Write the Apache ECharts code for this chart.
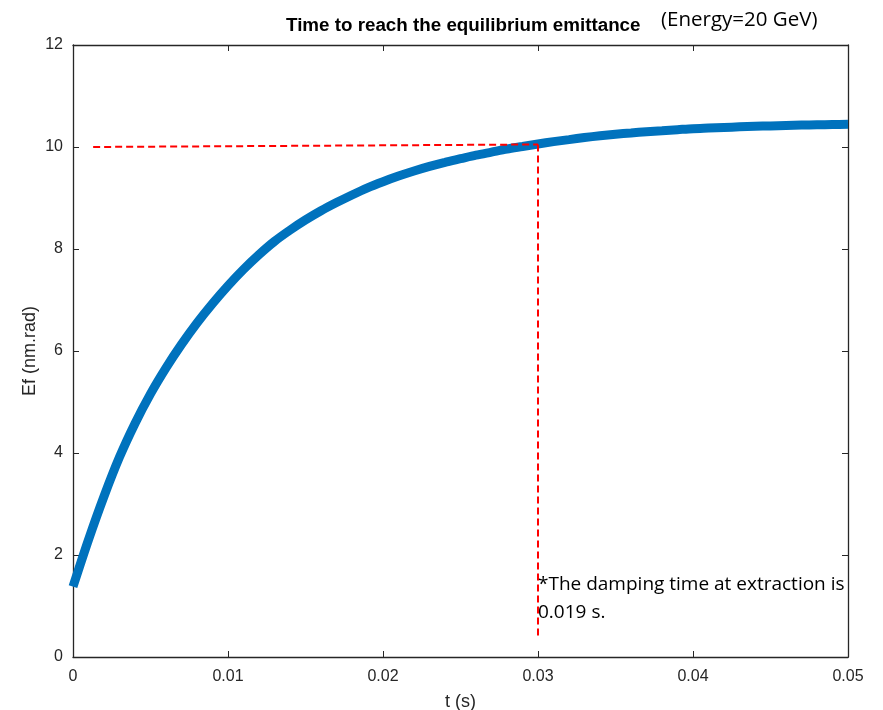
<!DOCTYPE html>
<html>
<head>
<meta charset="utf-8">
<script src="https://cdn.jsdelivr.net/npm/echarts@6/dist/echarts.min.js"></script>
<style>
  html, body { margin: 0; padding: 0; background: #fff; }
  #chart { width: 883px; height: 710px; }
</style>
</head>
<body>
<div id="chart"></div>
<script>
// time (s) and Ef (nm.rad)
const tValues = [
  0, 0.001, 0.002, 0.003, 0.004, 0.005, 0.006, 0.007, 0.008, 0.009,
  0.010, 0.011, 0.012, 0.013, 0.014, 0.015, 0.016, 0.017, 0.018, 0.019,
  0.020, 0.021, 0.022, 0.023, 0.024, 0.025, 0.026, 0.027, 0.028, 0.029,
  0.030, 0.031, 0.032, 0.033, 0.034, 0.035, 0.036, 0.037, 0.038, 0.039,
  0.040, 0.041, 0.042, 0.043, 0.044, 0.045, 0.046, 0.047, 0.048, 0.049, 0.050
]
const efValues = [
  1.38, 2.30, 3.15, 3.92, 4.58, 5.16, 5.67, 6.13, 6.55, 6.93,
  7.28, 7.60, 7.89, 8.15, 8.37, 8.57, 8.75, 8.91, 9.06, 9.20,
  9.32, 9.43, 9.53, 9.62, 9.70, 9.77, 9.84, 9.90, 9.96, 10.01,
  10.06, 10.105, 10.145, 10.185, 10.22, 10.25, 10.275, 10.30, 10.32, 10.34,
  10.36, 10.372, 10.384, 10.395, 10.405, 10.414, 10.422, 10.429, 10.435, 10.44, 10.445
]
// red guide lines
const hGuideT = [0.0013, 0.030]
const hGuideEf = [10.0, 10.05]
const vGuideT = [0.030, 0.030]
const vGuideEf = [10.05, 0.37]

const axisColor = '#262626'
const tickFont = { color: axisColor, fontFamily: 'Liberation Sans', fontSize: 16 }

function boxAxis (extra) {
  return Object.assign({
    type: 'value',
    axisLine: { show: true, onZero: false, lineStyle: { color: axisColor, width: 1.3 } },
    axisTick: { inside: true, length: 6, lineStyle: { color: axisColor } },
    splitLine: { show: false }
  }, extra)
}

const chart = echarts.init(document.getElementById('chart'))
const option = {
  animation: false,
  backgroundColor: '#fff',
  title: [{
    text: 'Time to reach the equilibrium emittance',
    left: 281,
    top: 11,
    textStyle: { fontFamily: 'Liberation Sans', fontWeight: 'bold', fontSize: 18.8, color: '#000' }
  }, {
    text: '(Energy=20 GeV)',
    left: 656,
    top: 5,
    textStyle: { fontFamily: 'Open Sans', fontWeight: 'normal', fontSize: 20.5, color: '#000' }
  }],
  grid: { left: 73, right: 35, top: 45, bottom: 53, outerBoundsMode: 'none', containLabel: false },
  xAxis: [boxAxis({
    min: 0,
    max: 0.05,
    interval: 0.01,
    name: 't (s)',
    nameLocation: 'middle',
    nameGap: 36,
    nameTextStyle: { color: axisColor, fontFamily: 'Liberation Sans', fontSize: 18 },
    axisLabel: Object.assign({ margin: 12, formatter: v => String(+v.toFixed(2)) }, tickFont)
  }), boxAxis({
    position: 'top',
    min: 0,
    max: 0.05,
    interval: 0.01,
    axisLabel: { show: false }
  })],
  yAxis: [boxAxis({
    min: 0,
    max: 12,
    interval: 2,
    name: 'Ef (nm.rad)',
    nameLocation: 'middle',
    nameGap: 34,
    nameMoveOverlap: false,
    nameTextStyle: { color: axisColor, fontFamily: 'Liberation Sans', fontSize: 18 },
    axisLabel: Object.assign({ margin: 10 }, tickFont)
  }), boxAxis({
    position: 'right',
    min: 0,
    max: 12,
    interval: 2,
    axisLabel: { show: false }
  })],
  series: [{
    name: 'Ef',
    type: 'line',
    smooth: 0.3,
    symbol: 'none',
    lineStyle: { color: '#0072BD', width: 9 },
    data: tValues.map((t, i) => [t, efValues[i]]),
    z: 3
  }, {
    name: 'h guide',
    type: 'line',
    symbol: 'none',
    lineStyle: { color: '#ff0000', width: 2, type: [7, 4] },
    data: hGuideT.map((t, i) => [t, hGuideEf[i]]),
    z: 4
  }, {
    name: 'v guide',
    type: 'line',
    symbol: 'none',
    lineStyle: { color: '#ff0000', width: 2, type: [7, 4] },
    data: vGuideT.map((t, i) => [t, vGuideEf[i]]),
    z: 4
  }],
  graphic: [{
    type: 'text',
    left: 538,
    top: 571,
    style: {
      text: '*The damping time at extraction is\n0.019 s.',
      font: '19px "Open Sans"',
      lineHeight: 28,
      fill: '#000'
    },
    z: 10
  }]
}
chart.setOption(option)
window.addEventListener('resize', function () {
  chart.resize()
})
</script>
</body>
</html>
